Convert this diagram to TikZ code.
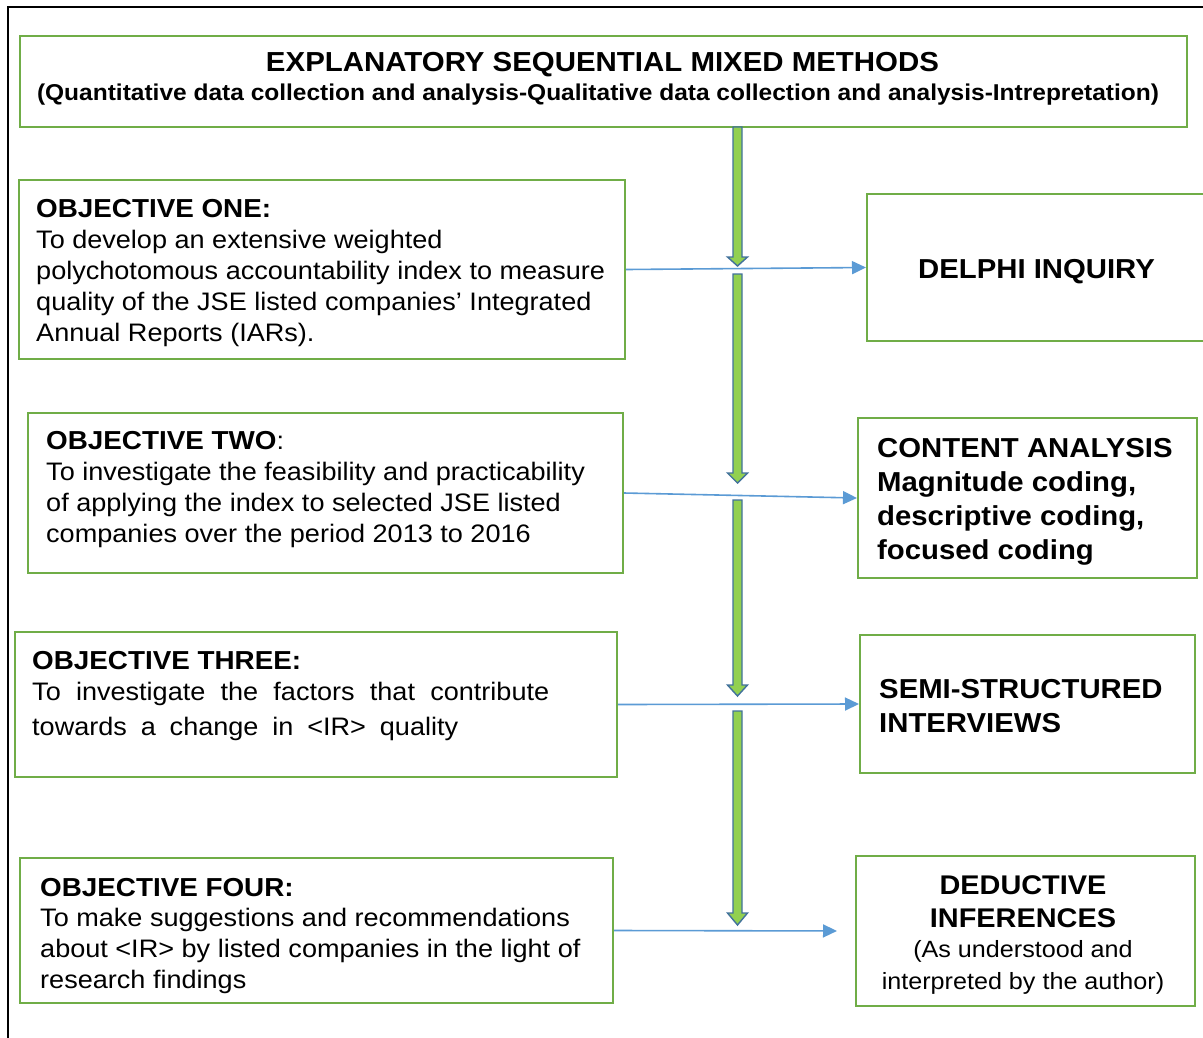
\documentclass[tikz,border=0pt]{standalone}
\usepackage{fontspec}
\setmainfont{Liberation Sans}[FakeStretch=1.07]
\usetikzlibrary{arrows.meta}

\definecolor{boxgreen}{HTML}{70AD47}
\definecolor{flowgreen}{HTML}{92D050}
\definecolor{flowedge}{HTML}{41719C}
\definecolor{linkblue}{HTML}{5B9BD5}

% heading of an objective panel
\newcommand\objhead[1]{{\fontsize{26}{31}\selectfont\bfseries #1}}

\begin{document}
\begin{tikzpicture}[x=1pt,y=-1pt,
  panel/.style={draw=boxgreen, line width=2pt, inner sep=0pt},
  link/.style={draw=linkblue, line width=1.6pt, -{Triangle[length=14pt,width=13pt]}},
  flow/.style={fill=flowgreen, draw=flowedge, line width=1.4pt, line join=miter},
  txt/.style={inner sep=0pt, anchor=base west},
  bodyfont/.style={font=\fontsize{25.3}{31}\selectfont},
  rightfont/.style={font=\fontsize{27.4}{34}\selectfont\bfseries}]

\clip (0,0) rectangle (1203,1037);
\fill[white] (0,0) rectangle (1203,1037);

% outer frame (top and left edges)
\draw[line width=2pt] (8,1045) -- (8,7) -- (1210,7);

% panels
\node[panel, minimum width=1167pt, minimum height=91pt] (title) at (603.5,81.5) {};
\node[panel, minimum width=606pt, minimum height=179pt] (o1) at (322,269.5) {};
\node[panel, minimum width=595pt, minimum height=160pt] (o2) at (325.5,493) {};
\node[panel, minimum width=602pt, minimum height=145pt] (o3) at (316,704.5) {};
\node[panel, minimum width=593pt, minimum height=145pt] (o4) at (316.5,930.5) {};
\node[panel, minimum width=340pt, minimum height=147pt] (delphi) at (1037,267.5) {};
\node[panel, minimum width=339pt, minimum height=160pt] (content) at (1027.5,498) {};
\node[panel, minimum width=335pt, minimum height=138pt] (semi) at (1027.5,704) {};
\node[panel, minimum width=339pt, minimum height=150pt] (deduct) at (1025.5,931) {};

% title texts
\node[inner sep=0pt, anchor=base, font=\fontsize{27.5}{33}\selectfont\bfseries] (titlehead) at (602.5,71)
  {EXPLANATORY SEQUENTIAL MIXED METHODS};
\node[inner sep=0pt, anchor=base, font=\fontsize{22.9}{27}\selectfont\bfseries] (titlesub) at (598,100)
  {(Quantitative data collection and analysis-Qualitative data collection and analysis-Intrepretation)};

% objective texts
\node[txt, bodyfont] (t1) at (36,217) {\begin{tabular}[t]{@{}l@{}}
  \objhead{OBJECTIVE ONE:}\\
  To develop an extensive weighted\\
  polychotomous accountability index to measure\\
  quality of the JSE listed companies’ Integrated\\
  Annual Reports (IARs).
\end{tabular}};

\node[txt, bodyfont] (t2) at (46,449) {\begin{tabular}[t]{@{}l@{}}
  \objhead{OBJECTIVE TWO}:\\
  To investigate the feasibility and practicability\\
  of applying the index to selected JSE listed\\
  companies over the period 2013 to 2016
\end{tabular}};

\node[txt, bodyfont] (t3) at (32,669) {\begin{tabular}[t]{@{}l@{}}
  \objhead{OBJECTIVE THREE:}\\
  \makebox[517pt][s]{To investigate the factors that contribute}\\[4pt]
  \makebox[426pt][s]{towards a change in <IR> quality}
\end{tabular}};

\node[txt, bodyfont] (t4) at (40,896) {\begin{tabular}[t]{@{}l@{}}
  \objhead{OBJECTIVE FOUR:}\\[-1pt]
  To make suggestions and recommendations\\
  about <IR> by listed companies in the light of\\
  research findings
\end{tabular}};

% method texts
\node[inner sep=0pt, anchor=base, rightfont] (delphitext) at (1036.5,278) {DELPHI INQUIRY};

\node[txt, rightfont] (contenttext) at (877,457) {\begin{tabular}[t]{@{}l@{}}
  CONTENT ANALYSIS\\
  Magnitude coding,\\
  descriptive coding,\\
  focused coding
\end{tabular}};

\node[txt, rightfont] (semitext) at (879,698) {\begin{tabular}[t]{@{}l@{}}
  \makebox[289pt][s]{SEMI-STRUCTURED}\\
  INTERVIEWS
\end{tabular}};

\node[inner sep=0pt, anchor=base, font=\fontsize{27}{33}\selectfont] (deducttext) at (1023,894) {\begin{tabular}[t]{@{}c@{}}
  \bfseries DEDUCTIVE\\
  \bfseries INFERENCES\\[-3pt]
  {\fontsize{23.5}{29}\selectfont (As understood and}\\[-1pt]
  {\fontsize{23.5}{29}\selectfont interpreted by the author)}
\end{tabular}};

% links from objectives to methods
\draw[link] (o1.east) -- (delphi.west);
\draw[link] (o2.east) -- (content.west);
\draw[link] (o3.east) -- (semi.west);
\draw[link, shorten >=18pt] (o4.east) -- (deduct.west);

% downward flow arrows
\foreach \ya/\yb/\yc in {127/257/266, 274/473/483, 500/685/696, 711/913/925}{
  \draw[flow] (733,\ya) -- (742,\ya) -- (742,\yb) -- (747.5,\yb) -- (737.5,\yc)
    -- (727.5,\yb) -- (733,\yb) -- cycle;
}

\end{tikzpicture}
\end{document}
